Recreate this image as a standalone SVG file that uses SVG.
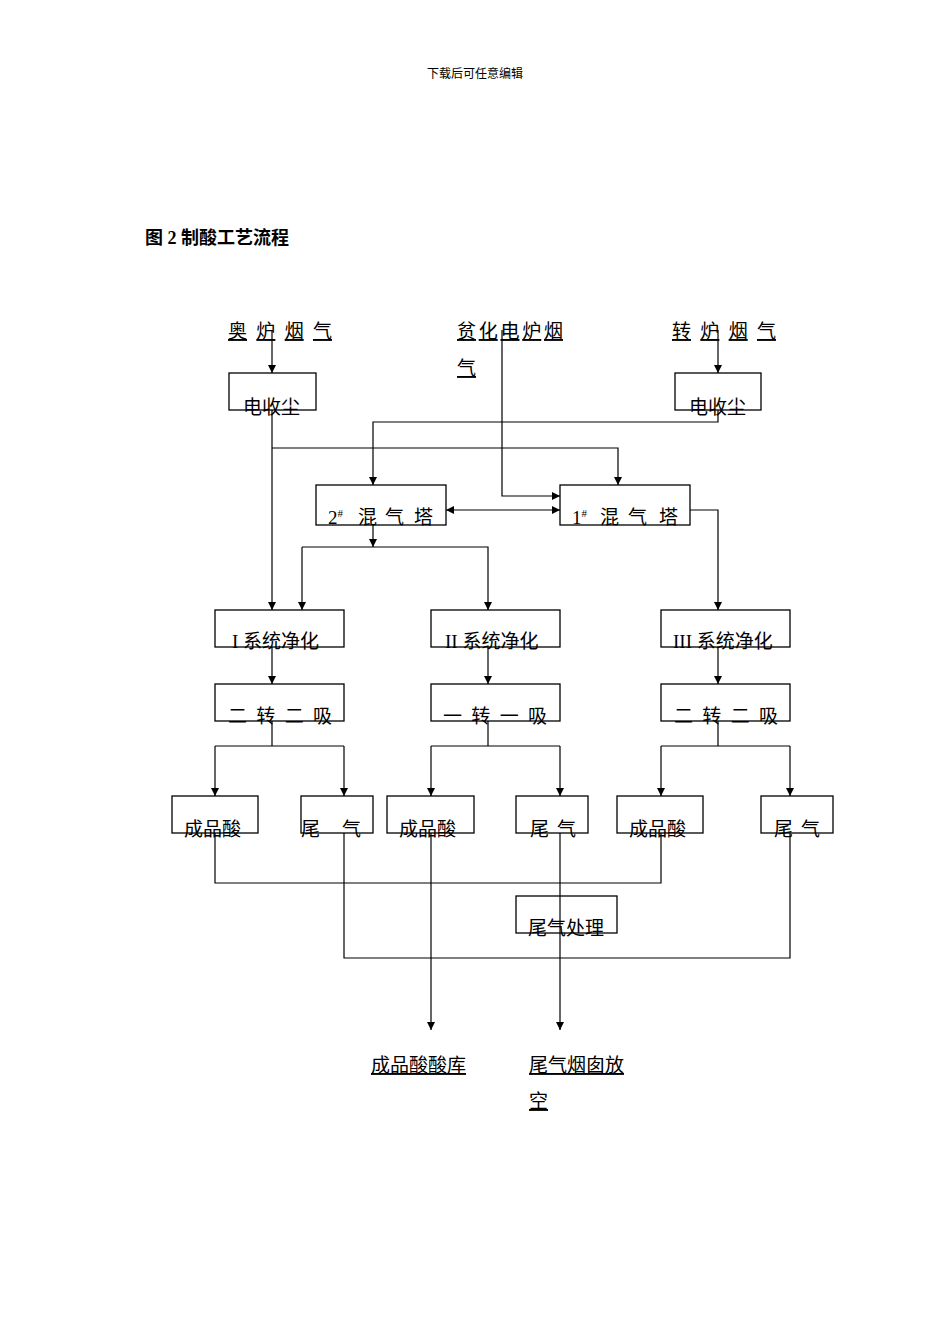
<svg xmlns="http://www.w3.org/2000/svg" width="950" height="1344" viewBox="0 0 950 1344">
<style>
text{font-family:"Liberation Serif","Noto Sans CJK SC",serif;font-size:19px;fill:#000}
.b rect{fill:none;stroke:#000;stroke-width:1.3}
#conn path{fill:none;stroke:#000;stroke-width:1.2}
.u{text-decoration:underline}
</style>
<defs><marker id="a" viewBox="0 0 10 10" refX="10" refY="5" markerWidth="8" markerHeight="8" orient="auto-start-reverse" markerUnits="userSpaceOnUse"><path d="M0,0L10,5L0,10z" fill="#000"/></marker></defs>
<rect width="950" height="1344" fill="#fff"/>
<text x="475" y="78" font-size="12" text-anchor="middle" style="font-size:12px">下载后可任意编辑</text>
<text x="145" y="244" style="font-size:18px;font-weight:bold">图 2 制酸工艺流程</text>
<g id="src1"><text x="228" y="338" textLength="104" class="u">奥炉烟气</text></g>
<g id="src2"><text x="457" y="338" textLength="106" class="u">贫化电炉烟</text><text x="457" y="375" class="u">气</text></g>
<g id="src3"><text x="672" y="338" textLength="104" class="u">转炉烟气</text></g>
<g class="b" id="esp1"><rect x="229" y="373" width="87" height="37"/><text x="243" y="414">电收尘</text></g>
<g class="b" id="esp2"><rect x="675" y="373" width="86" height="37"/><text x="689" y="414">电收尘</text></g>
<g class="b" id="mix2"><rect x="316" y="485" width="130" height="40"/><text x="328" y="524">2<tspan dy="-7" style="font-size:11px">#</tspan><tspan dy="7" x="358">混</tspan><tspan x="385">气</tspan><tspan x="414">塔</tspan></text></g>
<g class="b" id="mix1"><rect x="560" y="485" width="130" height="40"/><text x="572" y="524">1<tspan dy="-7" style="font-size:11px">#</tspan><tspan dy="7" x="600">混</tspan><tspan x="628">气</tspan><tspan x="659">塔</tspan></text></g>
<g class="b" id="p1"><rect x="215" y="610" width="129" height="37"/><text x="232" y="648">I 系统净化</text></g>
<g class="b" id="p2"><rect x="431" y="610" width="129" height="37"/><text x="445" y="648">II 系统净化</text></g>
<g class="b" id="p3"><rect x="661" y="610" width="129" height="37"/><text x="673" y="648">III 系统净化</text></g>
<g class="b" id="c1"><rect x="215" y="684" width="129" height="37"/><text x="228" y="723" textLength="104">二转二吸</text></g>
<g class="b" id="c2"><rect x="431" y="684" width="129" height="37"/><text x="443" y="723" textLength="104">一转一吸</text></g>
<g class="b" id="c3"><rect x="661" y="684" width="129" height="37"/><text x="674" y="723" textLength="104">二转二吸</text></g>
<g class="b" id="a1"><rect x="172" y="796" width="86" height="37"/><text x="184" y="836">成品酸</text></g>
<g class="b" id="t1"><rect x="301" y="796" width="72" height="37"/><text x="301" y="836" textLength="60">尾 气</text></g>
<g class="b" id="a2"><rect x="387" y="796" width="87" height="37"/><text x="399" y="836">成品酸</text></g>
<g class="b" id="t2"><rect x="516" y="796" width="72" height="37"/><text x="530" y="836" textLength="46">尾 气</text></g>
<g class="b" id="a3"><rect x="617" y="796" width="86" height="37"/><text x="629" y="836">成品酸</text></g>
<g class="b" id="t3"><rect x="761" y="796" width="72" height="37"/><text x="774" y="836" textLength="46">尾 气</text></g>
<g class="b" id="tt"><rect x="516" y="896" width="101" height="37"/><text x="528" y="935">尾气处理</text></g>
<g id="o1"><text x="371" y="1072" class="u">成品酸酸库</text></g>
<g id="o2"><text x="529" y="1072" class="u">尾气烟囱放</text><text x="529" y="1108" class="u">空</text></g>
<g id="conn">
<path d="M272,330V373" marker-end="url(#a)"/>
<path d="M718,330V373" marker-end="url(#a)"/>
<path d="M272,410V610" marker-end="url(#a)"/>
<path d="M272,448H618V485" marker-end="url(#a)"/>
<path d="M718,410V422H373V485" marker-end="url(#a)"/>
<path d="M502,330V496H560" marker-end="url(#a)"/>
<path d="M446,510H560" marker-start="url(#a)" marker-end="url(#a)"/>
<path d="M690,510H718V610" marker-end="url(#a)"/>
<path d="M373,525V547" marker-end="url(#a)"/>
<path d="M302,547H488V610" marker-end="url(#a)"/>
<path d="M302,547V610" marker-end="url(#a)"/>
<path d="M272,647V684" marker-end="url(#a)"/>
<path d="M488,647V684" marker-end="url(#a)"/>
<path d="M718,647V684" marker-end="url(#a)"/>
<path d="M272,721V746M215,746H344M488,721V746M431,746H560M718,721V746M661,746H790"/>
<path d="M215,746V796" marker-end="url(#a)"/>
<path d="M344,746V796" marker-end="url(#a)"/>
<path d="M431,746V796" marker-end="url(#a)"/>
<path d="M560,746V796" marker-end="url(#a)"/>
<path d="M661,746V796" marker-end="url(#a)"/>
<path d="M790,746V796" marker-end="url(#a)"/>
<path d="M215,833V883H661V833"/>
<path d="M344,833V958H790V833"/>
<path d="M431,833V1030" marker-end="url(#a)"/>
<path d="M560,833V1030" marker-end="url(#a)"/>
</g>
</svg>
